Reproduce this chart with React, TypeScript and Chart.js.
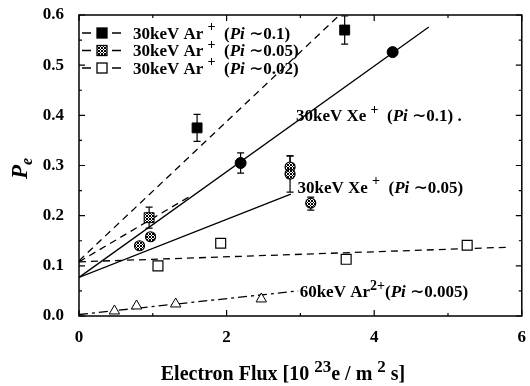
import React, { useEffect, useRef } from "react";
import { Chart, registerables } from "chart.js";
Chart.register(...registerables);

const SERIF = '"Liberation Serif", "DejaVu Serif", serif';

// ---- data ----
const arP10X = [1.6, 3.6];
const arP10Y = [0.375, 0.57];
const arP10Err = [0.027, 0.028];

const arP05X = [0.95];
const arP05Y = [0.196];
const arP05Err = [0.021];

const arP02X = [1.07, 1.92, 3.62, 5.26];
const arP02Y = [0.1, 0.145, 0.113, 0.141];

const xeP10X = [2.19, 4.25];
const xeP10Y = [0.305, 0.526];
const xeP10Err = [0.02, 0];

const xeP05X = [0.82, 0.97, 2.86, 2.86, 3.14];
const xeP05Y = [0.14, 0.158, 0.297, 0.283, 0.225];
const xeP05ErrUp = [0, 0, 0.022, 0.036, 0.012];
const xeP05ErrDn = [0, 0, 0.022, 0.036, 0.014];

const ar2X = [0.48, 0.78, 1.31, 2.47];
const ar2Y = [0.01, 0.02, 0.024, 0.034];

// fitted lines [x0, y0, x1, y1]
const fitArP10 = [0, 0.11, 3.53, 0.6];
const fitArP05 = [0, 0.108, 1.52, 0.24];
const fitArP02 = [0, 0.108, 5.8, 0.137];
const fitXeP10 = [0, 0.077, 4.74, 0.576];
const fitXeP05 = [0, 0.077, 2.87, 0.243];
const fitAr2 = [0, 0.003, 2.97, 0.05];

const xMajorTicks = [0, 2, 4, 6];
const xMinorTicks = [1, 3, 5];
const yMajorTicks = [0, 0.1, 0.2, 0.3, 0.4, 0.5, 0.6];
const yMinorTicks = [0.05, 0.15, 0.25, 0.35, 0.45, 0.55];

const legendPi = ["0.1)", "0.05)", "0.02)"];
const TILDE = "\u223C";

type Seg = { t: string; it?: boolean; sup?: boolean; big?: boolean };

function pts(xs: number[], ys: number[]) {
  return xs.map((x, i) => ({ x, y: ys[i] }));
}
function line(f: number[]) {
  return [
    { x: f[0], y: f[1] },
    { x: f[2], y: f[3] },
  ];
}

function makeStipple(): CanvasPattern | string {
  const c = document.createElement("canvas");
  c.width = 3;
  c.height = 3;
  const g = c.getContext("2d");
  if (!g) return "#777";
  g.fillStyle = "#fff";
  g.fillRect(0, 0, 3, 3);
  g.fillStyle = "#000";
  const on = [
    [0, 0],
    [2, 0],
    [1, 1],
    [0, 2],
    [2, 2],
  ];
  on.forEach(([a, b]) => g.fillRect(a, b, 1, 1));
  const p = g.createPattern(c, "repeat");
  return p || "#777";
}

function drawRich(
  ctx: CanvasRenderingContext2D,
  segs: Seg[],
  x: number,
  y: number,
  size: number,
  align: "left" | "center"
) {
  const fontFor = (s: Seg) => {
    const sz = s.sup ? Math.round(size * (s.big ? 0.85 : 0.68)) : size;
    return `${s.it ? "italic " : ""}bold ${sz}px ${SERIF}`;
  };
  let total = 0;
  for (const s of segs) {
    ctx.font = fontFor(s);
    total += ctx.measureText(s.t).width;
  }
  let cx = align === "center" ? x - total / 2 : x;
  ctx.textAlign = "left";
  ctx.textBaseline = "alphabetic";
  ctx.fillStyle = "#000";
  for (const s of segs) {
    ctx.font = fontFor(s);
    const dy = s.sup ? -size * 0.42 : 0;
    ctx.fillText(s.t, cx, y + dy);
    cx += ctx.measureText(s.t).width;
  }
}

export default function App() {
  const ref = useRef<HTMLCanvasElement | null>(null);

  useEffect(() => {
    const canvas = ref.current;
    if (!canvas) return;
    const stipple = makeStipple();

    const errorBars = {
      id: "errorBars",
      beforeDatasetsDraw(chart: any) {
        const { ctx } = chart;
        const ys = chart.scales.y;
        ctx.save();
        ctx.strokeStyle = "#000";
        ctx.lineWidth = 1.2;
        chart.data.datasets.forEach((ds: any, i: number) => {
          if (!ds.errUp) return;
          const meta = chart.getDatasetMeta(i);
          meta.data.forEach((el: any, j: number) => {
            const up = ds.errUp[j] || 0;
            const dn = ds.errDn[j] || 0;
            if (!up && !dn) return;
            const v = ds.data[j].y;
            const yt = ys.getPixelForValue(v + up);
            const yb = ys.getPixelForValue(v - dn);
            const x = el.x;
            ctx.beginPath();
            ctx.moveTo(x, yt);
            ctx.lineTo(x, yb);
            ctx.moveTo(x - 3.5, yt);
            ctx.lineTo(x + 3.5, yt);
            ctx.moveTo(x - 3.5, yb);
            ctx.lineTo(x + 3.5, yb);
            ctx.stroke();
          });
        });
        ctx.restore();
      },
    };

    const decor = {
      id: "decor",
      afterDraw(chart: any) {
        const { ctx, chartArea: a } = chart;
        const xs = chart.scales.x;
        const ys = chart.scales.y;
        ctx.save();
        ctx.strokeStyle = "#000";
        ctx.lineWidth = 1.5;
        ctx.strokeRect(a.left, a.top, a.right - a.left, a.bottom - a.top);
        ctx.lineWidth = 1.2;
        ctx.beginPath();
        const xt = (v: number, len: number) => {
          const p = xs.getPixelForValue(v);
          ctx.moveTo(p, a.bottom);
          ctx.lineTo(p, a.bottom - len);
          ctx.moveTo(p, a.top);
          ctx.lineTo(p, a.top + len);
        };
        const yt = (v: number, len: number) => {
          const p = ys.getPixelForValue(v);
          ctx.moveTo(a.left, p);
          ctx.lineTo(a.left + len, p);
          ctx.moveTo(a.right, p);
          ctx.lineTo(a.right - len, p);
        };
        xMajorTicks.forEach((v) => xt(v, 6));
        xMinorTicks.forEach((v) => xt(v, 3));
        yMajorTicks.forEach((v) => yt(v, 6));
        yMinorTicks.forEach((v) => yt(v, 3));
        ctx.stroke();

        // x tick labels
        ctx.fillStyle = "#000";
        ctx.font = `bold 17px ${SERIF}`;
        ctx.textAlign = "center";
        ctx.textBaseline = "middle";
        xMajorTicks.forEach((v) => {
          ctx.fillText(String(v), xs.getPixelForValue(v), a.bottom + 22);
        });

        // legend
        const rowY = [33, 50.5, 68];
        const fills: any[] = ["#000", stipple, "#fff"];
        rowY.forEach((ry, i) => {
          ctx.lineWidth = 1.3;
          ctx.strokeStyle = "#000";
          ctx.beginPath();
          ctx.moveTo(82, ry);
          ctx.lineTo(91, ry);
          ctx.moveTo(112, ry);
          ctx.lineTo(121, ry);
          ctx.stroke();
          ctx.fillStyle = fills[i];
          ctx.fillRect(97, ry - 5, 10, 10);
          ctx.strokeRect(97, ry - 5, 10, 10);
          drawRich(
            ctx,
            [
              { t: "30keV Ar " },
              { t: "+", sup: true, big: true },
              { t: "  (" },
              { t: "Pi", it: true },
              { t: " " + TILDE + legendPi[i] },
            ],
            133,
            ry + 5.5,
            17,
            "left"
          );
        });

        // annotations
        const ann = (vx: number, vy: number, segs: Seg[]) =>
          drawRich(ctx, segs, xs.getPixelForValue(vx), ys.getPixelForValue(vy) + 5.5, 17, "left");
        ann(2.94, 0.4, [
          { t: "30keV Xe " },
          { t: "+", sup: true, big: true },
          { t: "  (" },
          { t: "Pi", it: true },
          { t: " " + TILDE + "0.1)" },
          { t: " ." },
        ]);
        ann(2.96, 0.257, [
          { t: "30keV Xe " },
          { t: "+", sup: true, big: true },
          { t: "  (" },
          { t: "Pi", it: true },
          { t: " " + TILDE + "0.05)" },
        ]);
        ann(2.99, 0.048, [
          { t: "60keV Ar" },
          { t: "2+", sup: true, big: true },
          { t: "(" },
          { t: "Pi", it: true },
          { t: " " + TILDE + "0.005)" },
        ]);

        // x title
        drawRich(
          ctx,
          [
            { t: "Electron Flux [10 " },
            { t: "23", sup: true, big: true },
            { t: "e / m " },
            { t: "2", sup: true, big: true },
            { t: " s]" },
          ],
          283,
          380,
          20,
          "center"
        );

        // y title
        ctx.translate(27, 172);
        ctx.rotate(-Math.PI / 2);
        ctx.fillStyle = "#000";
        ctx.textAlign = "left";
        ctx.textBaseline = "alphabetic";
        ctx.font = `italic bold 23px ${SERIF}`;
        ctx.fillText("P", -7, 0);
        const pw = ctx.measureText("P").width;
        ctx.font = `italic bold 16px ${SERIF}`;
        ctx.fillText("e", -7 + pw, 5);
        ctx.restore();
      },
    };

    const ptBase = { showLine: false, borderColor: "#000" };
    const lnBase = {
      showLine: true,
      pointRadius: 0,
      borderColor: "#000",
      borderWidth: 1.3,
      fill: false,
    };

    const chart = new Chart(canvas, {
      type: "scatter",
      data: {
        datasets: [
          {
            ...ptBase,
            data: pts(arP10X, arP10Y),
            pointStyle: "rect",
            pointRadius: 7,
            backgroundColor: "#000",
            errUp: arP10Err,
            errDn: arP10Err,
          } as any,
          {
            ...ptBase,
            data: pts(arP05X, arP05Y),
            pointStyle: "rect",
            pointRadius: 7,
            borderWidth: 1,
            backgroundColor: stipple,
            errUp: arP05Err,
            errDn: arP05Err,
          },
          {
            ...ptBase,
            data: pts(arP02X, arP02Y),
            pointStyle: "rect",
            pointRadius: 7,
            borderWidth: 1.2,
            backgroundColor: "#fff",
          },
          {
            ...ptBase,
            data: pts(xeP10X, xeP10Y),
            pointStyle: "circle",
            pointRadius: 5.5,
            backgroundColor: "#000",
            errUp: xeP10Err,
            errDn: xeP10Err,
          },
          {
            ...ptBase,
            data: pts(xeP05X, xeP05Y),
            pointStyle: "circle",
            pointRadius: 5,
            borderWidth: 1.2,
            backgroundColor: stipple,
            errUp: xeP05ErrUp,
            errDn: xeP05ErrDn,
          },
          {
            ...ptBase,
            data: pts(ar2X, ar2Y),
            pointStyle: "triangle",
            pointRadius: 6,
            borderWidth: 1,
            backgroundColor: "#fff",
          },
          { ...lnBase, data: line(fitArP10), borderDash: [7, 5] },
          { ...lnBase, data: line(fitArP05), borderDash: [7, 5] },
          { ...lnBase, data: line(fitArP02), borderDash: [7, 5] },
          { ...lnBase, data: line(fitXeP10) },
          { ...lnBase, data: line(fitXeP05) },
          { ...lnBase, data: line(fitAr2), borderDash: [9, 4, 3, 4] },
        ] as any,
      },
      options: {
        animation: false,
        responsive: false,
        devicePixelRatio: 1,
        layout: { padding: { left: 0, top: 15, right: 0, bottom: 0 } },
        plugins: { legend: { display: false }, tooltip: { enabled: false } },
        scales: {
          x: {
            type: "linear",
            min: 0,
            max: 6,
            afterFit: (s: any) => {
              s.height = 70;
              s.paddingLeft = 0;
              s.paddingRight = 0;
            },
            grid: { display: false },
            border: { display: false },
            ticks: { display: false, stepSize: 2 },
          },
          y: {
            type: "linear",
            min: 0,
            max: 0.6,
            afterFit: (s: any) => {
              s.width = 79;
              s.paddingTop = 0;
              s.paddingBottom = 0;
            },
            grid: { display: false },
            border: { display: false },
            ticks: {
              stepSize: 0.1,
              padding: 7,
              color: "#000",
              font: { family: SERIF, weight: "bold", size: 17 },
              callback: (v: any) => Number(v).toFixed(1),
            },
          },
        },
      },
      plugins: [errorBars, decor],
    } as any);

    return () => chart.destroy();
  }, []);

  return (
    <div style={{ position: "absolute", left: 0, top: 0, width: 530, height: 386, background: "#fff" }}>
      <canvas ref={ref} width={530} height={386} style={{ display: "block" }} />
    </div>
  );
}
